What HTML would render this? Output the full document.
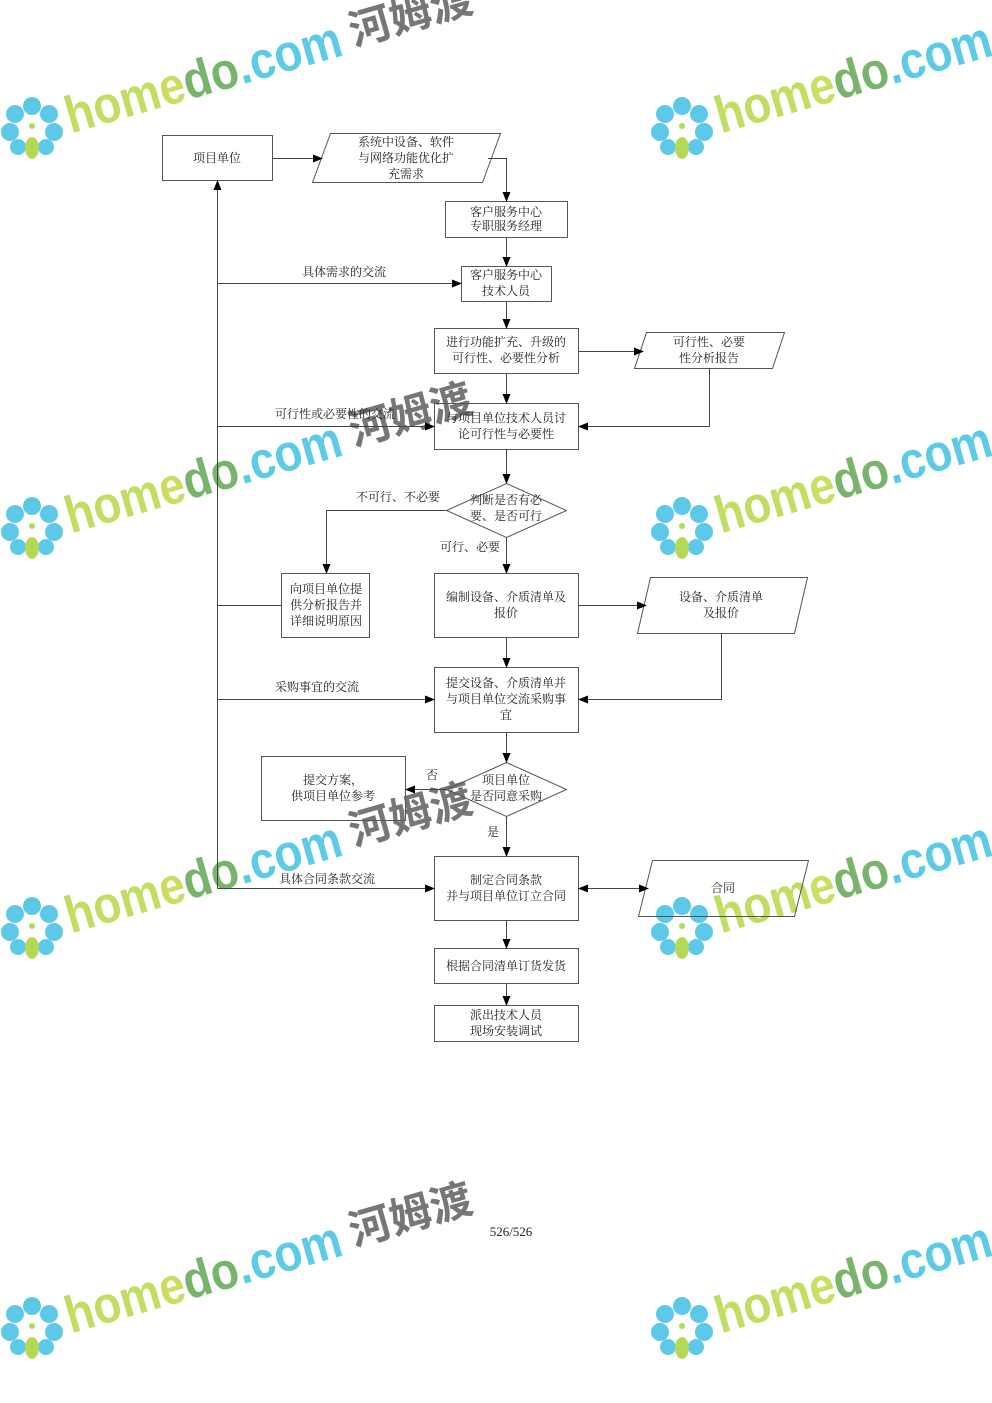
<!DOCTYPE html>
<html><head><meta charset="utf-8"><style>
html,body{margin:0;padding:0;background:#fff}
svg{display:block}
.d text{font-family:"Liberation Serif","Noto Serif CJK SC","Noto Sans CJK SC",serif;font-size:12px;fill:#222}
.wm text{font-family:"Liberation Sans","Noto Sans CJK SC",sans-serif}
.hm{font-size:52px;font-weight:bold;fill:#c2de62}
.hz{font-size:42px;font-weight:bold;fill:#767676}
</style></head><body>
<svg width="992" height="1403" viewBox="0 0 992 1403" xmlns="http://www.w3.org/2000/svg">
<defs>
<marker id="a" markerWidth="10" markerHeight="8" refX="9" refY="4" orient="auto" markerUnits="userSpaceOnUse"><path d="M0,0 L10,4 L0,8 z" fill="#000"/></marker>
<marker id="b" markerWidth="10" markerHeight="8" refX="1" refY="4" orient="auto" markerUnits="userSpaceOnUse"><path d="M10,0 L0,4 L10,8 z" fill="#000"/></marker>
</defs>

<g class="wm" transform="translate(0,0)"><g transform="translate(32,128)">
 <g fill="#5ec8e8"><circle cx="0" cy="-22" r="9"/><circle cx="17" cy="-14" r="9"/><circle cx="22" cy="4" r="9"/><circle cx="14" cy="19" r="8"/><circle cx="-17" cy="-14" r="9"/><circle cx="-22" cy="4" r="9"/><circle cx="-14" cy="19" r="8"/></g>
 <ellipse cx="0" cy="20" rx="7" ry="11" fill="#b5d956"/><circle cx="0" cy="-2" r="3" fill="#b5d956"/>
 <g transform="rotate(-16)"><text class="hm" x="36" y="16" textLength="285" lengthAdjust="spacingAndGlyphs">hom<tspan fill="#c8e060">e</tspan><tspan fill="#79b46c">do</tspan><tspan fill="#5ecbe6">.com</tspan></text><text class="hz" x="332" y="10">河姆渡</text></g>
</g></g>
<g class="wm" transform="translate(0,400)"><g transform="translate(32,128)">
 <g fill="#5ec8e8"><circle cx="0" cy="-22" r="9"/><circle cx="17" cy="-14" r="9"/><circle cx="22" cy="4" r="9"/><circle cx="14" cy="19" r="8"/><circle cx="-17" cy="-14" r="9"/><circle cx="-22" cy="4" r="9"/><circle cx="-14" cy="19" r="8"/></g>
 <ellipse cx="0" cy="20" rx="7" ry="11" fill="#b5d956"/><circle cx="0" cy="-2" r="3" fill="#b5d956"/>
 <g transform="rotate(-16)"><text class="hm" x="36" y="16" textLength="285" lengthAdjust="spacingAndGlyphs">hom<tspan fill="#c8e060">e</tspan><tspan fill="#79b46c">do</tspan><tspan fill="#5ecbe6">.com</tspan></text><text class="hz" x="332" y="10">河姆渡</text></g>
</g></g>
<g class="wm" transform="translate(0,800)"><g transform="translate(32,128)">
 <g fill="#5ec8e8"><circle cx="0" cy="-22" r="9"/><circle cx="17" cy="-14" r="9"/><circle cx="22" cy="4" r="9"/><circle cx="14" cy="19" r="8"/><circle cx="-17" cy="-14" r="9"/><circle cx="-22" cy="4" r="9"/><circle cx="-14" cy="19" r="8"/></g>
 <ellipse cx="0" cy="20" rx="7" ry="11" fill="#b5d956"/><circle cx="0" cy="-2" r="3" fill="#b5d956"/>
 <g transform="rotate(-16)"><text class="hm" x="36" y="16" textLength="285" lengthAdjust="spacingAndGlyphs">hom<tspan fill="#c8e060">e</tspan><tspan fill="#79b46c">do</tspan><tspan fill="#5ecbe6">.com</tspan></text><text class="hz" x="332" y="10">河姆渡</text></g>
</g></g>
<g class="wm" transform="translate(0,1200)"><g transform="translate(32,128)">
 <g fill="#5ec8e8"><circle cx="0" cy="-22" r="9"/><circle cx="17" cy="-14" r="9"/><circle cx="22" cy="4" r="9"/><circle cx="14" cy="19" r="8"/><circle cx="-17" cy="-14" r="9"/><circle cx="-22" cy="4" r="9"/><circle cx="-14" cy="19" r="8"/></g>
 <ellipse cx="0" cy="20" rx="7" ry="11" fill="#b5d956"/><circle cx="0" cy="-2" r="3" fill="#b5d956"/>
 <g transform="rotate(-16)"><text class="hm" x="36" y="16" textLength="285" lengthAdjust="spacingAndGlyphs">hom<tspan fill="#c8e060">e</tspan><tspan fill="#79b46c">do</tspan><tspan fill="#5ecbe6">.com</tspan></text><text class="hz" x="332" y="10">河姆渡</text></g>
</g></g>
<g class="wm" transform="translate(650,0)"><g transform="translate(32,128)">
 <g fill="#5ec8e8"><circle cx="0" cy="-22" r="9"/><circle cx="17" cy="-14" r="9"/><circle cx="22" cy="4" r="9"/><circle cx="14" cy="19" r="8"/><circle cx="-17" cy="-14" r="9"/><circle cx="-22" cy="4" r="9"/><circle cx="-14" cy="19" r="8"/></g>
 <ellipse cx="0" cy="20" rx="7" ry="11" fill="#b5d956"/><circle cx="0" cy="-2" r="3" fill="#b5d956"/>
 <g transform="rotate(-16)"><text class="hm" x="36" y="16" textLength="285" lengthAdjust="spacingAndGlyphs">hom<tspan fill="#c8e060">e</tspan><tspan fill="#79b46c">do</tspan><tspan fill="#5ecbe6">.com</tspan></text></g>
</g></g>
<g class="wm" transform="translate(650,400)"><g transform="translate(32,128)">
 <g fill="#5ec8e8"><circle cx="0" cy="-22" r="9"/><circle cx="17" cy="-14" r="9"/><circle cx="22" cy="4" r="9"/><circle cx="14" cy="19" r="8"/><circle cx="-17" cy="-14" r="9"/><circle cx="-22" cy="4" r="9"/><circle cx="-14" cy="19" r="8"/></g>
 <ellipse cx="0" cy="20" rx="7" ry="11" fill="#b5d956"/><circle cx="0" cy="-2" r="3" fill="#b5d956"/>
 <g transform="rotate(-16)"><text class="hm" x="36" y="16" textLength="285" lengthAdjust="spacingAndGlyphs">hom<tspan fill="#c8e060">e</tspan><tspan fill="#79b46c">do</tspan><tspan fill="#5ecbe6">.com</tspan></text></g>
</g></g>
<g class="wm" transform="translate(650,800)"><g transform="translate(32,128)">
 <g fill="#5ec8e8"><circle cx="0" cy="-22" r="9"/><circle cx="17" cy="-14" r="9"/><circle cx="22" cy="4" r="9"/><circle cx="14" cy="19" r="8"/><circle cx="-17" cy="-14" r="9"/><circle cx="-22" cy="4" r="9"/><circle cx="-14" cy="19" r="8"/></g>
 <ellipse cx="0" cy="20" rx="7" ry="11" fill="#b5d956"/><circle cx="0" cy="-2" r="3" fill="#b5d956"/>
 <g transform="rotate(-16)"><text class="hm" x="36" y="16" textLength="285" lengthAdjust="spacingAndGlyphs">hom<tspan fill="#c8e060">e</tspan><tspan fill="#79b46c">do</tspan><tspan fill="#5ecbe6">.com</tspan></text></g>
</g></g>
<g class="wm" transform="translate(650,1200)"><g transform="translate(32,128)">
 <g fill="#5ec8e8"><circle cx="0" cy="-22" r="9"/><circle cx="17" cy="-14" r="9"/><circle cx="22" cy="4" r="9"/><circle cx="14" cy="19" r="8"/><circle cx="-17" cy="-14" r="9"/><circle cx="-22" cy="4" r="9"/><circle cx="-14" cy="19" r="8"/></g>
 <ellipse cx="0" cy="20" rx="7" ry="11" fill="#b5d956"/><circle cx="0" cy="-2" r="3" fill="#b5d956"/>
 <g transform="rotate(-16)"><text class="hm" x="36" y="16" textLength="285" lengthAdjust="spacingAndGlyphs">hom<tspan fill="#c8e060">e</tspan><tspan fill="#79b46c">do</tspan><tspan fill="#5ecbe6">.com</tspan></text></g>
</g></g>

<g class="d">
<g fill="none" stroke="#555" stroke-width="1">
<rect x="162.5" y="135.5" width="110" height="45"/>
<polygon points="330.5,133.5 500.5,133.5 482.5,182.5 312.5,182.5"/>
<rect x="445.5" y="201.5" width="122" height="36"/>
<rect x="461.5" y="266.5" width="90" height="35"/>
<rect x="434.5" y="328.5" width="144" height="45"/>
<polygon points="646.5,332.5 784.5,332.5 772.5,368.5 634.5,368.5"/>
<rect x="434.5" y="403.5" width="144" height="46"/>
<polygon points="506.5,483.5 566.5,510.5 506.5,537.5 446.5,510.5"/>
<rect x="281.5" y="573.5" width="88" height="64"/>
<rect x="434.5" y="573.5" width="144" height="64"/>
<polygon points="650.5,577.5 807.5,577.5 794.5,633.5 637.5,633.5"/>
<rect x="434.5" y="667.5" width="144" height="65"/>
<polygon points="506.5,762.5 566.5,789.5 506.5,816.5 446.5,789.5"/>
<rect x="261.5" y="756.5" width="144" height="64"/>
<rect x="434.5" y="856.5" width="144" height="64"/>
<polygon points="652.5,860.5 808.5,860.5 794.5,916.5 638.5,916.5"/>
<rect x="434.5" y="948.5" width="144" height="35"/>
<rect x="434.5" y="1005.5" width="144" height="36"/>
</g>

<g fill="none" stroke="#444" stroke-width="1">
<line x1="272.5" y1="158.5" x2="322" y2="158.5" marker-end="url(#a)"/>
<polyline points="488,158.5 506.5,158.5 506.5,201" marker-end="url(#a)"/>
<line x1="506.5" y1="237.5" x2="506.5" y2="266" marker-end="url(#a)"/>
<line x1="506.5" y1="301.5" x2="506.5" y2="328" marker-end="url(#a)"/>
<line x1="578.5" y1="351.5" x2="643" y2="351.5" marker-end="url(#a)"/>
<line x1="506.5" y1="373.5" x2="506.5" y2="403" marker-end="url(#a)"/>
<polyline points="709.5,368.5 709.5,426.5 579,426.5" marker-end="url(#a)"/>
<line x1="506.5" y1="449.5" x2="506.5" y2="483" marker-end="url(#a)"/>
<polyline points="446.5,510.5 326.5,510.5 326.5,573" marker-end="url(#a)"/>
<line x1="506.5" y1="537.5" x2="506.5" y2="573" marker-end="url(#a)"/>
<line x1="578.5" y1="605.5" x2="646" y2="605.5" marker-end="url(#a)"/>
<line x1="506.5" y1="637.5" x2="506.5" y2="667" marker-end="url(#a)"/>
<polyline points="721.5,633.5 721.5,699.5 579,699.5" marker-end="url(#a)"/>
<line x1="506.5" y1="732.5" x2="506.5" y2="762" marker-end="url(#a)"/>
<line x1="446.5" y1="789.5" x2="406" y2="789.5" marker-end="url(#a)"/>
<line x1="506.5" y1="816.5" x2="506.5" y2="856" marker-end="url(#a)"/>
<line x1="579" y1="888.5" x2="648" y2="888.5" marker-start="url(#b)" marker-end="url(#a)"/>
<line x1="506.5" y1="920.5" x2="506.5" y2="948" marker-end="url(#a)"/>
<line x1="506.5" y1="983.5" x2="506.5" y2="1005" marker-end="url(#a)"/>
<line x1="217.5" y1="888.5" x2="217.5" y2="181" marker-end="url(#a)"/>
<line x1="217.5" y1="283.5" x2="461" y2="283.5" marker-end="url(#a)"/>
<line x1="217.5" y1="426.5" x2="434" y2="426.5" marker-end="url(#a)"/>
<line x1="217.5" y1="605.5" x2="281.5" y2="605.5"/>
<line x1="217.5" y1="699.5" x2="434" y2="699.5" marker-end="url(#a)"/>
<line x1="217.5" y1="888.5" x2="434" y2="888.5" marker-end="url(#a)"/>
</g>

<g text-anchor="middle">
<text x="217" y="162">项目单位</text>
<text x="406" y="146">系统中设备、软件</text>
<text x="406" y="162">与网络功能优化扩</text>
<text x="406" y="178">充需求</text>
<text x="506" y="216">客户服务中心</text>
<text x="506" y="230">专职服务经理</text>
<text x="506" y="279">客户服务中心</text>
<text x="506" y="295">技术人员</text>
<text x="506" y="346">进行功能扩充、升级的</text>
<text x="506" y="362">可行性、必要性分析</text>
<text x="709" y="346">可行性、必要</text>
<text x="709" y="362">性分析报告</text>
<text x="506" y="422">与项目单位技术人员讨</text>
<text x="506" y="438">论可行性与必要性</text>
<text x="506" y="504">判断是否有必</text>
<text x="506" y="520">要、是否可行</text>
<text x="326" y="593">向项目单位提</text>
<text x="326" y="609">供分析报告并</text>
<text x="326" y="625">详细说明原因</text>
<text x="506" y="601">编制设备、介质清单及</text>
<text x="506" y="617">报价</text>
<text x="721" y="601">设备、介质清单</text>
<text x="721" y="617">及报价</text>
<text x="506" y="687">提交设备、介质清单并</text>
<text x="506" y="703">与项目单位交流采购事</text>
<text x="506" y="719">宜</text>
<text x="506" y="784">项目单位</text>
<text x="506" y="800">是否同意采购</text>
<text x="333" y="784">提交方案，</text>
<text x="333" y="800">供项目单位参考</text>
<text x="506" y="884">制定合同条款</text>
<text x="506" y="900">并与项目单位订立合同</text>
<text x="723" y="892">合同</text>
<text x="506" y="970">根据合同清单订货发货</text>
<text x="506" y="1019">派出技术人员</text>
<text x="506" y="1035">现场安装调试</text>
<text x="511" y="1236" style="font-size:13px">526/526</text>
</g>
<text x="302" y="276">具体需求的交流</text>
<text x="275" y="418">可行性或必要性的交流</text>
<text x="356" y="501">不可行、不必要</text>
<text x="440" y="551">可行、必要</text>
<text x="275" y="691">采购事宜的交流</text>
<text x="426" y="779">否</text>
<text x="487" y="836">是</text>
<text x="279" y="883">具体合同条款交流</text>
</g>
</svg>
</body></html>
